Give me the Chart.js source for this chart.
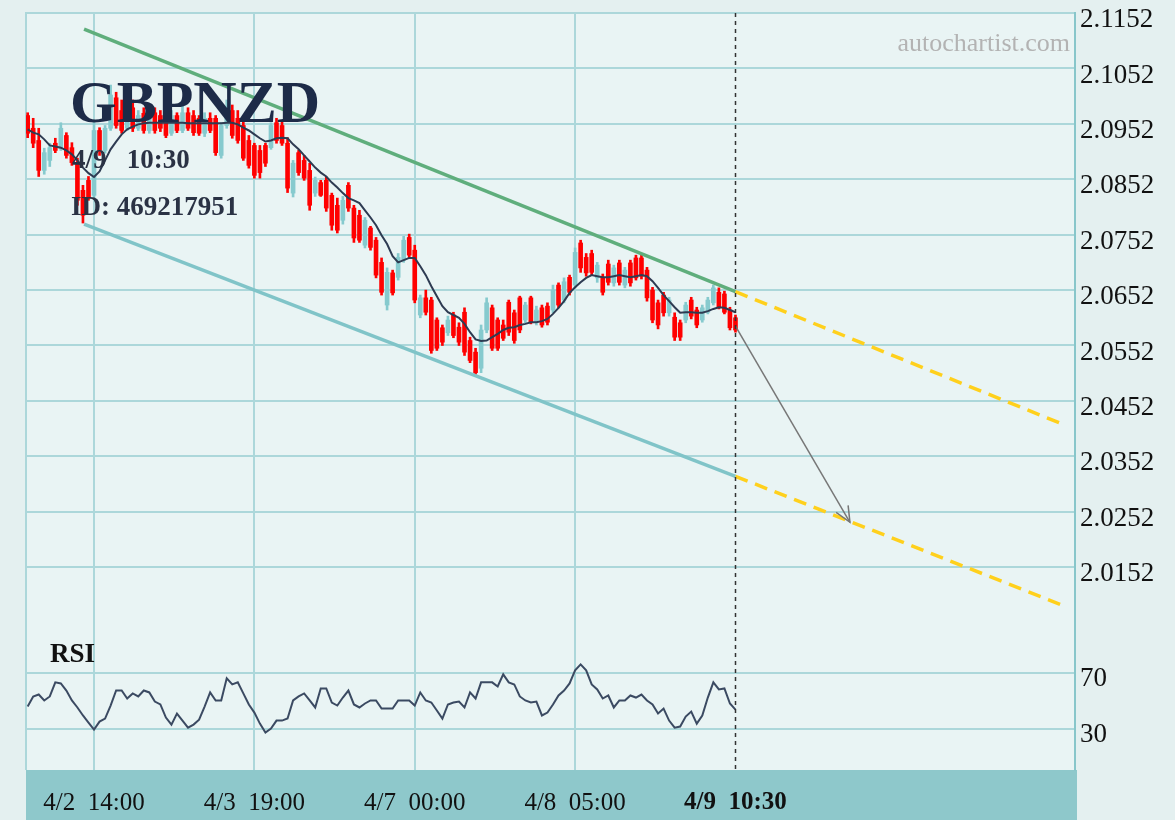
<!DOCTYPE html>
<html>
<head>
<meta charset="utf-8">
<script src="https://cdn.jsdelivr.net/npm/chart.js@4.4.1/dist/chart.umd.min.js"></script>
<style>
    html, body { margin: 0; padding: 0; background: #e4f0f0; }
    #area { width: 1175px; height: 820px; }
</style>
</head>
<body>
<div id="area"><canvas id="grafico" width="1175" height="820"></canvas></div>
<script>
// candles de 1h, indice 0..128 (ultimo = 4/9 10:30)
const aberturas = [
    2.0967, 2.0944, 2.0922, 2.0868, 2.0886, 2.0917, 2.0908, 2.0931, 2.0909, 2.0882,
    2.0832, 2.0850, 2.0823, 2.0940, 2.0904, 2.0944, 2.0999, 2.0976, 2.0944, 2.0981,
    2.0944, 2.0971, 2.0940, 2.0972, 2.0967, 2.0976, 2.0935, 2.0967, 2.0940, 2.0972,
    2.0967, 2.0962, 2.0935, 2.0962, 2.0962, 2.0895, 2.0949, 2.0976, 2.0962, 2.0949,
    2.0922, 2.0913, 2.0904, 2.0913, 2.0909, 2.0954, 2.0949, 2.0917, 2.0827, 2.0900,
    2.0886, 2.0868, 2.0827, 2.0846, 2.0850, 2.0823, 2.0805, 2.0778, 2.0841, 2.0800,
    2.0787, 2.0733, 2.0764, 2.0742, 2.0702, 2.0625, 2.0683, 2.0675, 2.0706, 2.0747,
    2.0724, 2.0607, 2.0638, 2.0634, 2.0598, 2.0584, 2.0575, 2.0607, 2.0585, 2.0612,
    2.0561, 2.0540, 2.0511, 2.0580, 2.0620, 2.0598, 2.0589, 2.0630, 2.0611, 2.0638,
    2.0598, 2.0638, 2.0594, 2.0620, 2.0623, 2.0616, 2.0661, 2.0634, 2.0675, 2.0661,
    2.0737, 2.0711, 2.0718, 2.0674, 2.0675, 2.0699, 2.0665, 2.0701, 2.0661, 2.0701,
    2.0710, 2.0710, 2.0688, 2.0652, 2.0629, 2.0643, 2.0611, 2.0603, 2.0593, 2.0598,
    2.0634, 2.0616, 2.0598, 2.0612, 2.0629, 2.0648, 2.0645, 2.0616, 2.0602
];
const maximas = [
    2.0972, 2.0962, 2.0944, 2.0908, 2.0917, 2.0926, 2.0954, 2.0936, 2.0918, 2.0890,
    2.0841, 2.0857, 2.0958, 2.0945, 2.0949, 2.1022, 2.1009, 2.0995, 2.0986, 2.0995,
    2.0976, 2.0981, 2.0981, 2.0981, 2.0976, 2.0986, 2.0976, 2.0972, 2.0984, 2.0981,
    2.0976, 2.0967, 2.0972, 2.0972, 2.0967, 2.0954, 2.0995, 2.0986, 2.0976, 2.0958,
    2.0931, 2.0917, 2.0913, 2.0917, 2.0954, 2.0962, 2.0958, 2.0927, 2.0886, 2.0904,
    2.0895, 2.0881, 2.0856, 2.0850, 2.0856, 2.0827, 2.0818, 2.0821, 2.0846, 2.0805,
    2.0796, 2.0783, 2.0767, 2.0747, 2.0710, 2.0692, 2.0688, 2.0718, 2.0749, 2.0753,
    2.0733, 2.0643, 2.0652, 2.0639, 2.0602, 2.0589, 2.0605, 2.0612, 2.0593, 2.0620,
    2.0567, 2.0547, 2.0589, 2.0638, 2.0625, 2.0602, 2.0598, 2.0634, 2.0616, 2.0641,
    2.0630, 2.0641, 2.0623, 2.0625, 2.0629, 2.0661, 2.0665, 2.0674, 2.0679, 2.0728,
    2.0742, 2.0718, 2.0724, 2.0702, 2.0681, 2.0706, 2.0697, 2.0706, 2.0693, 2.0706,
    2.0715, 2.0715, 2.0693, 2.0657, 2.0634, 2.0648, 2.0639, 2.0611, 2.0598, 2.0630,
    2.0639, 2.0621, 2.0625, 2.0639, 2.0661, 2.0656, 2.0650, 2.0621, 2.0607
];
const minimas = [
    2.0927, 2.0909, 2.0857, 2.0861, 2.0875, 2.0900, 2.0904, 2.0890, 2.0877, 2.0805,
    2.0773, 2.0814, 2.0818, 2.0895, 2.0899, 2.0940, 2.0944, 2.0935, 2.0940, 2.0938,
    2.0940, 2.0935, 2.0935, 2.0935, 2.0938, 2.0927, 2.0931, 2.0936, 2.0936, 2.0940,
    2.0931, 2.0931, 2.0929, 2.0936, 2.0895, 2.0890, 2.0944, 2.0926, 2.0917, 2.0886,
    2.0872, 2.0854, 2.0854, 2.0875, 2.0906, 2.0917, 2.0913, 2.0828, 2.0820, 2.0859,
    2.0850, 2.0796, 2.0821, 2.0821, 2.0794, 2.0760, 2.0755, 2.0771, 2.0794, 2.0738,
    2.0738, 2.0728, 2.0724, 2.0674, 2.0643, 2.0616, 2.0643, 2.0670, 2.0702, 2.0710,
    2.0629, 2.0602, 2.0607, 2.0538, 2.0543, 2.0552, 2.0570, 2.0566, 2.0552, 2.0534,
    2.0521, 2.0500, 2.0503, 2.0575, 2.0543, 2.0543, 2.0561, 2.0570, 2.0556, 2.0575,
    2.0593, 2.0591, 2.0589, 2.0585, 2.0589, 2.0611, 2.0620, 2.0629, 2.0643, 2.0656,
    2.0684, 2.0677, 2.0679, 2.0666, 2.0643, 2.0661, 2.0659, 2.0661, 2.0656, 2.0659,
    2.0670, 2.0672, 2.0632, 2.0593, 2.0582, 2.0605, 2.0605, 2.0561, 2.0561, 2.0593,
    2.0600, 2.0584, 2.0594, 2.0609, 2.0625, 2.0618, 2.0609, 2.0580, 2.0576
];
const fechamentos = [
    2.0935, 2.0917, 2.0868, 2.0900, 2.0909, 2.0904, 2.0944, 2.0895, 2.0882, 2.0814,
    2.0787, 2.0818, 2.0940, 2.0904, 2.0944, 2.1004, 2.0949, 2.0940, 2.0972, 2.0944,
    2.0967, 2.0940, 2.0972, 2.0940, 2.0944, 2.0931, 2.0967, 2.0940, 2.0972, 2.0944,
    2.0936, 2.0935, 2.0962, 2.0940, 2.0900, 2.0949, 2.0976, 2.0931, 2.0922, 2.0890,
    2.0877, 2.0859, 2.0864, 2.0881, 2.0949, 2.0922, 2.0917, 2.0836, 2.0881, 2.0864,
    2.0854, 2.0805, 2.0850, 2.0823, 2.0800, 2.0769, 2.0760, 2.0814, 2.0800, 2.0746,
    2.0742, 2.0778, 2.0729, 2.0679, 2.0648, 2.0684, 2.0647, 2.0711, 2.0742, 2.0715,
    2.0634, 2.0638, 2.0612, 2.0543, 2.0547, 2.0558, 2.0598, 2.0570, 2.0558, 2.0540,
    2.0525, 2.0503, 2.0580, 2.0629, 2.0547, 2.0547, 2.0565, 2.0576, 2.0561, 2.0580,
    2.0625, 2.0594, 2.0616, 2.0589, 2.0594, 2.0652, 2.0625, 2.0667, 2.0648, 2.0720,
    2.0692, 2.0683, 2.0684, 2.0697, 2.0648, 2.0666, 2.0692, 2.0666, 2.0688, 2.0665,
    2.0674, 2.0677, 2.0638, 2.0598, 2.0589, 2.0611, 2.0634, 2.0567, 2.0567, 2.0625,
    2.0605, 2.0589, 2.0620, 2.0634, 2.0656, 2.0621, 2.0612, 2.0584, 2.0580
];
const mediaMovel = [
    2.0942, 2.0936, 2.0933, 2.0924, 2.0913, 2.0911, 2.0909, 2.0904, 2.0897, 2.0886,
    2.0873, 2.0863, 2.0856, 2.0866, 2.0886, 2.0906, 2.0920, 2.0933, 2.0942, 2.0947,
    2.0951, 2.0953, 2.0954, 2.0954, 2.0954, 2.0954, 2.0954, 2.0954, 2.0954, 2.0953,
    2.0953, 2.0953, 2.0953, 2.0953, 2.0953, 2.0953, 2.0954, 2.0954, 2.0951, 2.0945,
    2.0940, 2.0933, 2.0926, 2.0920, 2.0922, 2.0926, 2.0927, 2.0926, 2.0915, 2.0906,
    2.0895, 2.0884, 2.0873, 2.0864, 2.0857, 2.0846, 2.0837, 2.0827, 2.0818, 2.0814,
    2.0809, 2.0796, 2.0783, 2.0769, 2.0751, 2.0735, 2.0713, 2.0702, 2.0706, 2.0710,
    2.0710, 2.0695, 2.0679, 2.0659, 2.0641, 2.0623, 2.0612, 2.0607, 2.0602, 2.0591,
    2.0576, 2.0563, 2.0560, 2.0561, 2.0567, 2.0573, 2.0580, 2.0584, 2.0585, 2.0589,
    2.0591, 2.0594, 2.0594, 2.0596, 2.0600, 2.0609, 2.0620, 2.0632, 2.0647, 2.0657,
    2.0666, 2.0674, 2.0679, 2.0677, 2.0675, 2.0675, 2.0677, 2.0679, 2.0677, 2.0675,
    2.0677, 2.0679, 2.0677, 2.0668, 2.0656, 2.0643, 2.0632, 2.0621, 2.0611, 2.0612,
    2.0612, 2.0611, 2.0611, 2.0614, 2.0618, 2.0621, 2.0620, 2.0616, 2.0612
];
const valoresRsi = [
    46.0, 53.3, 54.7, 50.4, 53.3, 63.5, 62.7, 57.6, 50.4, 45.3,
    39.5, 34.4, 29.3, 35.1, 37.3, 46.7, 57.6, 57.6, 51.8, 55.5,
    53.3, 57.6, 56.2, 49.6, 47.5, 38.0, 32.9, 40.9, 35.8, 30.7,
    32.9, 36.5, 46.0, 56.2, 50.4, 50.4, 66.4, 62.0, 63.5, 55.5,
    47.5, 41.6, 33.6, 27.1, 30.0, 35.8, 35.8, 37.3, 50.4, 53.3,
    55.5, 50.4, 45.3, 59.1, 59.1, 48.9, 46.7, 52.5, 57.6, 47.5,
    45.3, 48.2, 50.4, 50.4, 44.5, 44.5, 44.5, 50.4, 50.4, 50.4,
    46.7, 56.2, 50.4, 48.9, 43.1, 37.3, 47.5, 48.9, 49.6, 45.3,
    56.2, 51.8, 63.5, 63.5, 63.5, 60.5, 69.3, 63.5, 62.0, 53.3,
    50.4, 48.9, 49.6, 39.5, 41.6, 47.5, 54.0, 57.6, 62.7, 72.2,
    76.5, 72.2, 62.0, 58.4, 51.8, 54.0, 45.3, 50.4, 50.4, 54.0,
    52.5, 54.7, 50.4, 47.5, 40.9, 44.5, 35.8, 30.7, 31.5, 38.7,
    42.3, 33.6, 39.5, 52.5, 63.5, 58.4, 59.1, 48.2, 43.8
];

// eixos
const indicesX = [12, 41, 70, 99, 128];
const rotulosX = ['4/2  14:00', '4/3  19:00', '4/7  00:00', '4/8  05:00', '4/9  10:30'];
const ticksPreco = [2.1152, 2.1052, 2.0952, 2.0852, 2.0752, 2.0652, 2.0552, 2.0452, 2.0352, 2.0252, 2.0152];
const ticksRsi = [30, 70];

// canal e projecao [indice, preco]
const canalSuperior = [[10.2, 2.1123], [128, 2.0649]];
const canalInferior = [[10.2, 2.0771], [128, 2.0316]];
const projecaoSuperior = [[128, 2.0649], [186.7, 2.0412]];
const projecaoInferior = [[128, 2.0316], [186.7, 2.0085]];
const seta = [[128, 2.0587], [148.7, 2.0233]];

const fonte = "'Liberation Serif', 'Times New Roman', serif";
const corGrade = '#acd7da';
const corVermelho = '#ff0000';
const corAzul = '#86cace';

function pontos(lista) {
    return lista.map(p => ({ x: p[0], y: p[1] }));
}

const coresCandle = fechamentos.map((c, i) => c < aberturas[i] ? corVermelho : corAzul);

const fundo = {
    id: 'fundo',
    beforeDraw(chart) {
        const { ctx, chartArea: a } = chart;
        ctx.save();
        ctx.fillStyle = '#e4f0f0';
        ctx.fillRect(0, 0, chart.width, chart.height);
        ctx.fillStyle = '#e9f4f4';
        ctx.fillRect(a.left, a.top, a.width, a.height);
        ctx.fillStyle = '#8ec8cb';
        ctx.fillRect(a.left, a.bottom, a.width + 2, chart.height - a.bottom);
        ctx.strokeStyle = corGrade;
        ctx.lineWidth = 2;
        ctx.beginPath();
        ctx.moveTo(a.left, a.bottom);
        ctx.lineTo(a.left, a.top);
        ctx.lineTo(a.right, a.top);
        ctx.stroke();
        ctx.restore();
    }
};

const anotacoes = {
    id: 'anotacoes',
    afterDatasetsDraw(chart) {
        const { ctx, chartArea: a } = chart;
        const xs = chart.scales.x;
        ctx.save();

        // linha tracejada do ultimo candle
        const xf = Math.round(xs.getPixelForValue(indicesX[indicesX.length - 1])) + 0.5;
        ctx.strokeStyle = '#333';
        ctx.lineWidth = 1.5;
        ctx.setLineDash([4, 4]);
        ctx.beginPath();
        ctx.moveTo(xf, a.top);
        ctx.lineTo(xf, a.bottom);
        ctx.stroke();
        ctx.setLineDash([]);

        // ponta da seta
        const meta = chart.getDatasetMeta(chart.data.datasets.findIndex(d => d.label === 'seta'));
        const p0 = meta.data[0], p1 = meta.data[1];
        const ang = Math.atan2(p1.y - p0.y, p1.x - p0.x);
        ctx.strokeStyle = '#777';
        ctx.lineWidth = 1.5;
        ctx.beginPath();
        ctx.moveTo(p1.x - 17 * Math.cos(ang - 0.42), p1.y - 17 * Math.sin(ang - 0.42));
        ctx.lineTo(p1.x, p1.y);
        ctx.lineTo(p1.x - 17 * Math.cos(ang + 0.42), p1.y - 17 * Math.sin(ang + 0.42));
        ctx.stroke();

        // textos
        ctx.textBaseline = 'alphabetic';
        ctx.textAlign = 'left';
        ctx.fillStyle = '#1d2b48';
        ctx.font = 'bold 60px ' + fonte;
        ctx.fillText('GBPNZD', 70, 122);
        ctx.fillStyle = '#2a3244';
        ctx.font = 'bold 27px ' + fonte;
        ctx.fillText('4/9   10:30', 72, 168);
        ctx.fillText('ID: 469217951', 71, 215);
        ctx.fillStyle = '#111';
        ctx.font = 'bold 27px ' + fonte;
        ctx.fillText('RSI', 50, 662);
        ctx.fillStyle = '#b3b3b3';
        ctx.font = '26px ' + fonte;
        ctx.textAlign = 'right';
        ctx.fillText('autochartist.com', 1070, 51);
        ctx.restore();
    }
};

function semPadding(s) {
    s.paddingTop = 0;
    s.paddingBottom = 0;
    s.paddingLeft = 0;
    s.paddingRight = 0;
}

const ctx = document.getElementById('grafico').getContext('2d');

new Chart(ctx, {
    type: 'bar',
    data: {
        datasets: [
            {
                label: 'pavio',
                data: maximas.map((h, i) => ({ x: i, y: [minimas[i], h] })),
                backgroundColor: coresCandle,
                barThickness: 2,
                grouped: false,
                order: 6
            },
            {
                label: 'corpo',
                data: aberturas.map((o, i) => ({ x: i, y: [o, fechamentos[i]] })),
                backgroundColor: coresCandle,
                barThickness: 4,
                grouped: false,
                order: 5
            },
            {
                type: 'line',
                label: 'media',
                data: mediaMovel.map((v, i) => ({ x: i, y: v })),
                borderColor: '#2e3b52',
                borderWidth: 2,
                pointRadius: 0,
                order: 4
            },
            {
                type: 'line',
                label: 'canalSup',
                data: pontos(canalSuperior),
                borderColor: '#5fae7c',
                borderWidth: 3.5,
                pointRadius: 0,
                order: 3
            },
            {
                type: 'line',
                label: 'canalInf',
                data: pontos(canalInferior),
                borderColor: '#80c4c8',
                borderWidth: 3.5,
                pointRadius: 0,
                order: 3
            },
            {
                type: 'line',
                label: 'projSup',
                data: pontos(projecaoSuperior),
                borderColor: '#ffd01c',
                borderWidth: 3.5,
                borderDash: [13, 8],
                pointRadius: 0,
                order: 2
            },
            {
                type: 'line',
                label: 'projInf',
                data: pontos(projecaoInferior),
                borderColor: '#ffd01c',
                borderWidth: 3.5,
                borderDash: [13, 8],
                pointRadius: 0,
                order: 2
            },
            {
                type: 'line',
                label: 'seta',
                data: pontos(seta),
                borderColor: '#777',
                borderWidth: 1.5,
                pointRadius: 0,
                order: 1
            },
            {
                type: 'line',
                label: 'RSI',
                yAxisID: 'yRsi',
                data: valoresRsi.map((v, i) => ({ x: i, y: v })),
                borderColor: '#3b4a62',
                borderWidth: 2,
                pointRadius: 0,
                order: 1
            }
        ]
    },
    options: {
        responsive: false,
        animation: false,
        devicePixelRatio: 1,
        layout: { padding: { left: 26, top: 13, right: 0, bottom: 0 } },
        plugins: {
            legend: { display: false },
            tooltip: { enabled: false }
        },
        scales: {
            x: {
                type: 'linear',
                min: -0.3,
                max: 189.4,
                offset: false,
                afterBuildTicks: s => { s.ticks = indicesX.map(v => ({ value: v })); },
                afterFit: s => { s.height = 50; semPadding(s); },
                grid: {
                    offset: false,
                    color: c => c.index === indicesX.length - 1 ? 'rgba(0,0,0,0)' : corGrade,
                    lineWidth: 2,
                    drawTicks: false
                },
                border: { display: false },
                ticks: {
                    padding: 18,
                    color: '#111',
                    maxRotation: 0,
                    autoSkip: false,
                    font: c => ({ family: fonte, size: 25, weight: c.index === indicesX.length - 1 ? 'bold' : 'normal' }),
                    callback: (v, i) => rotulosX[i]
                }
            },
            y: {
                type: 'linear',
                position: 'right',
                stack: 'paineis',
                stackWeight: 619,
                min: 2.0035,
                max: 2.1152,
                afterBuildTicks: s => { s.ticks = ticksPreco.map(v => ({ value: v })); },
                afterFit: s => { s.width = 100; semPadding(s); },
                grid: { color: corGrade, lineWidth: 2, drawTicks: false },
                border: { color: '#88c6ca', width: 2 },
                ticks: {
                    autoSkip: false,
                    padding: 5,
                    labelOffset: 7,
                    color: '#111',
                    font: { family: fonte, size: 27 },
                    callback: v => v.toFixed(4)
                }
            },
            yRsi: {
                type: 'linear',
                position: 'right',
                stack: 'paineis',
                stackWeight: 138,
                min: 0,
                max: 100,
                afterBuildTicks: s => { s.ticks = ticksRsi.map(v => ({ value: v })); },
                afterFit: s => { s.width = 100; semPadding(s); },
                grid: { color: corGrade, lineWidth: 2, drawTicks: false },
                border: { color: '#88c6ca', width: 2 },
                ticks: {
                    autoSkip: false,
                    padding: 5,
                    labelOffset: 6,
                    color: '#111',
                    font: { family: fonte, size: 27 },
                    callback: v => String(v)
                }
            }
        }
    },
    plugins: [fundo, anotacoes]
});
</script>
</body>
</html>
